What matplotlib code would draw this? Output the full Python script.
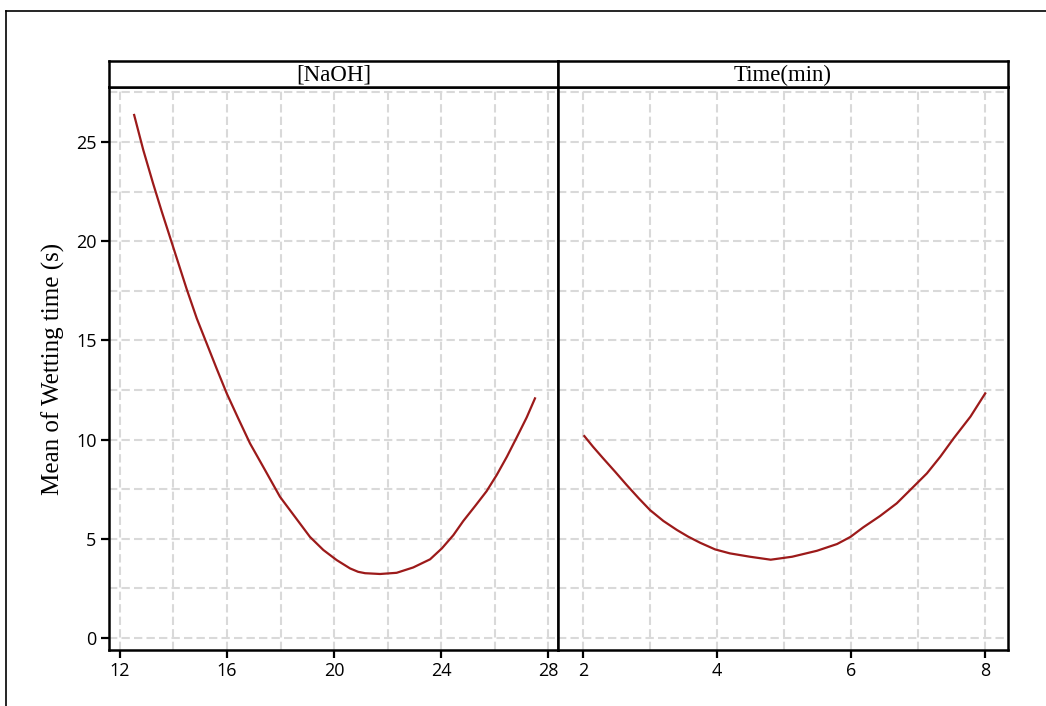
import numpy as np
import matplotlib.pyplot as plt
from matplotlib.lines import Line2D

# main effects
naoh = [12.53, 12.87, 13.24, 13.56, 13.93, 14.18, 14.49, 14.87, 15.24, 15.61,
        15.99, 16.42, 16.86, 17.42, 17.98, 18.54, 19.1, 19.6, 20.1, 20.6,
        20.9, 21.16, 21.72, 22.34, 22.96, 23.59, 24.03, 24.46, 24.83, 25.27,
        25.7, 26.08, 26.46, 26.83, 27.2, 27.51]
naoh_wet = [26.36, 24.6, 22.9, 21.5, 19.95, 18.9, 17.6, 16.11, 14.85, 13.59,
            12.33, 11.07, 9.81, 8.47, 7.12, 6.11, 5.1, 4.44, 3.93, 3.51,
            3.34, 3.27, 3.23, 3.29, 3.56, 3.97, 4.52, 5.19, 5.9, 6.65,
            7.4, 8.22, 9.14, 10.12, 11.12, 12.08]

time_min = [2.02, 2.15, 2.3, 2.48, 2.65, 2.83, 3.0, 3.2, 3.4, 3.57,
            3.75, 3.97, 4.19, 4.49, 4.8, 5.12, 5.49, 5.79, 5.99, 6.18,
            6.43, 6.68, 6.88, 7.13, 7.33, 7.53, 7.78, 8.0]
time_wet = [10.18, 9.64, 9.06, 8.38, 7.72, 7.05, 6.45, 5.9, 5.45, 5.11,
            4.8, 4.47, 4.27, 4.1, 3.95, 4.1, 4.4, 4.74, 5.1, 5.58,
            6.15, 6.79, 7.46, 8.3, 9.14, 10.07, 11.16, 12.33]

panel_titles = ["[NaOH]", "Time(min)"]
y_ticks = [0, 5, 10, 15, 20, 25]
naoh_ticks = [12, 16, 20, 24, 28]
time_ticks = [2, 4, 6, 8]

line_color = "#9c1a1a"
grid_kw = dict(color="#d9d9d9", linewidth=1.5, linestyle=(0, (4, 2)))
tick_font = "Open Sans"
serif = "Liberation Serif"

fig = plt.figure(figsize=(10.46, 7.06), dpi=100)

W, H = 1046, 706
bottom = 1 - 650 / H
top = 1 - 87 / H
strip_top = 1 - 61 / H

ax1 = fig.add_axes([109 / W, bottom, 449 / W, top - bottom])
ax2 = fig.add_axes([558 / W, bottom, 450 / W, top - bottom], sharey=ax1)

panels = [
    (ax1, naoh, naoh_wet, (11.59, 28.37), np.arange(12, 29, 2), naoh_ticks),
    (ax2, time_min, time_wet, (1.627, 8.34), np.arange(2, 9, 1), time_ticks),
]

for ax, x, y, xlim, xgrid, xticks in panels:
    ax.plot(x, y, color=line_color, linewidth=1.6, zorder=3,
            solid_joinstyle="round")
    ax.set_xlim(*xlim)
    ax.set_ylim(-0.6, 27.77)
    for g in xgrid:
        ax.axvline(g, zorder=1, **grid_kw)
    for g in np.arange(0, 28, 2.5):
        ax.axhline(g, zorder=1, **grid_kw)
    ax.set_xticks(xticks)
    ax.set_xticklabels([str(t) for t in xticks], fontfamily=tick_font, fontsize=13)
    for s in ax.spines.values():
        s.set_linewidth(1.8)
        s.set_color("black")
    ax.tick_params(axis="x", direction="out", length=6, width=1.6, pad=3)

ax1.set_yticks(y_ticks)
ax1.set_yticklabels([str(t) for t in y_ticks], fontfamily=tick_font, fontsize=13)
ax1.tick_params(axis="y", direction="out", length=6, width=1.6, pad=3)
ax2.tick_params(axis="y", left=False, labelleft=False)
ax1.set_ylabel("Mean of Wetting time (s)", fontfamily=serif, fontsize=18, labelpad=8)

# strip headers above each panel
for ax, title in zip([ax1, ax2], panel_titles):
    pos = ax.get_position()
    strip = fig.add_axes([pos.x0, top, pos.width, strip_top - top])
    strip.set_xticks([])
    strip.set_yticks([])
    for s in strip.spines.values():
        s.set_linewidth(1.8)
    strip.text(0.5, 0.45, title, ha="center", va="center",
               fontfamily=serif, fontsize=16.5, transform=strip.transAxes)

# outer frame lines
fy = 1 - 11 / H
fx = 6 / W
fig.add_artist(Line2D([fx, 1], [fy, fy], color="black", linewidth=1.2,
                      transform=fig.transFigure))
fig.add_artist(Line2D([fx, fx], [0, fy], color="black", linewidth=1.2,
                      transform=fig.transFigure))

fig.savefig("out.png", dpi=100)
